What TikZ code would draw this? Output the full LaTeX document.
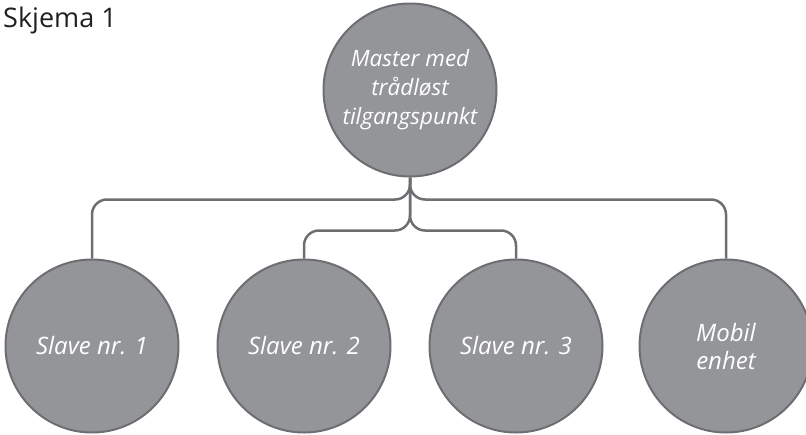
\documentclass[tikz,border=0pt]{standalone}
\usepackage{fontspec}
\setmainfont{Open Sans}
\definecolor{circfill}{HTML}{939598}
\definecolor{circline}{HTML}{6D6E71}
\definecolor{titlecol}{HTML}{231F20}
\begin{document}
\begin{tikzpicture}[x=1pt,y=-1pt,
  unit/.style={circle,fill=circfill,draw=circline,line width=2pt,minimum size=173pt,inner sep=0pt,
    text=white,align=center,font=\fontsize{24}{28}\selectfont\itshape},
  link/.style={draw=circline,line width=2.5pt,rounded corners=15pt}]
\useasboundingbox (0,0) rectangle (806,434);
\node[anchor=base west,text=titlecol,font=\fontsize{27}{32}\selectfont,inner sep=0pt] (title) at (3,27) {Skjema 1};
\node[unit,font=\fontsize{22.5}{29}\selectfont\itshape] (m) at (410,90) {Master med\\trådløst\\tilgangspunkt};
\node[unit] (s1) at (92,346) {Slave nr. 1};
\node[unit] (s2) at (304,346) {Slave nr. 2};
\node[unit] (s3) at (516,346) {Slave nr. 3};
\node[unit] (mob) at (726,346) {Mobil\\enhet};
\draw[link] (m.south) -- ++(0,22) -| (s1.north);
\draw[link] (m.south) -- ++(0,22) -| (mob.north);
\draw[link] (m.south) -- ++(0,53) -| (s2.north);
\draw[link] (m.south) -- ++(0,53) -| (s3.north);
\end{tikzpicture}
\end{document}
